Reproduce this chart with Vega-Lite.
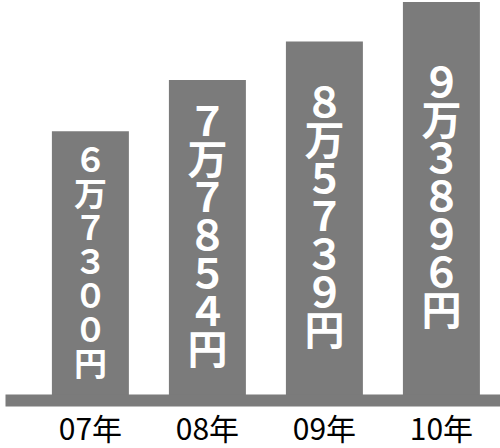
{
  "$schema": "https://vega.github.io/schema/vega-lite/v6.json",
  "width": 495,
  "height": 400,
  "autosize": {"type": "none"},
  "padding": {"left": 5, "top": 0, "right": 0, "bottom": 48},
  "background": "#ffffff",
  "config": {"view": {"stroke": null}},
  "data": {
    "values": [
      {"year": "07年", "value": 67300, "label": "６\n万\n７\n３\n０\n０\n円"},
      {"year": "08年", "value": 77854, "label": "７\n万\n７\n８\n５\n４\n円"},
      {"year": "09年", "value": 85739, "label": "８\n万\n５\n７\n３\n９\n円"},
      {"year": "10年", "value": 93896, "label": "９\n万\n３\n８\n９\n６\n円"}
    ]
  },
  "encoding": {
    "x": {
      "field": "year",
      "type": "nominal",
      "sort": null,
      "scale": {"paddingInner": 0.342, "paddingOuter": 0.2863, "align": 0.7},
      "axis": {
        "title": null,
        "labelAngle": 0,
        "ticks": false,
        "tickSize": 0,
        "labelPadding": 15,
        "labelBaseline": "top",
        "labelFont": "Noto Sans CJK JP",
        "labelFontSize": 30,
        "labelColor": "#000000",
        "domainColor": "#7b7b7b",
        "domainWidth": 12,
        "domainCap": "butt",
        "zindex": 1
      }
    }
  },
  "layer": [
    {
      "mark": {"type": "bar", "color": "#7b7b7b", "clip": true},
      "encoding": {
        "y": {
          "field": "value",
          "type": "quantitative",
          "scale": {"domain": [12000, 94300], "zero": false, "nice": false},
          "axis": null
        }
      }
    },
    {
      "layer": [
        {
          "transform": [{"filter": "datum.year === '07年'"}],
          "mark": {
            "type": "text",
            "color": "#ffffff",
            "font": "Noto Sans CJK JP",
            "fontWeight": "bold",
            "fontSize": 33,
            "lineHeight": 34,
            "lineBreak": "\n",
            "baseline": "middle",
            "align": "center",
            "dy": -104
          },
          "encoding": {
            "y": {
              "field": "value",
              "type": "quantitative",
              "scale": {"domain": [12000, 176600], "zero": false, "nice": false},
              "axis": null
            },
            "text": {"field": "label", "type": "nominal"}
          }
        },
        {
          "transform": [{"filter": "datum.year !== '07年'"}],
          "mark": {
            "type": "text",
            "color": "#ffffff",
            "font": "Noto Sans CJK JP",
            "fontWeight": "bold",
            "fontSize": 40,
            "lineHeight": 38,
            "lineBreak": "\n",
            "baseline": "middle",
            "align": "center",
            "dy": -116
          },
          "encoding": {
            "y": {
              "field": "value",
              "type": "quantitative",
              "scale": {"domain": [12000, 176600], "zero": false, "nice": false},
              "axis": null
            },
            "text": {"field": "label", "type": "nominal"}
          }
        }
      ]
    }
  ],
  "resolve": {"scale": {"y": "independent"}}
}
